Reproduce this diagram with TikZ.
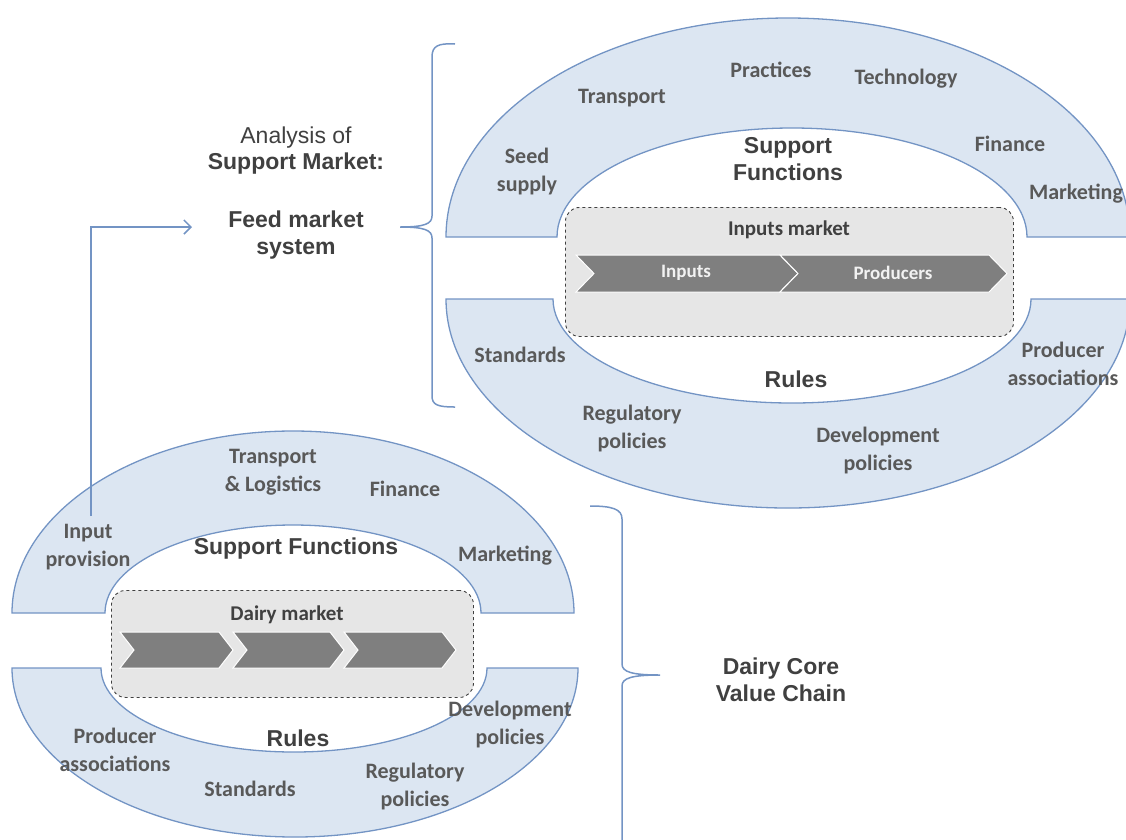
\documentclass[tikz,border=0pt]{standalone}
\usepackage{fontspec}
\setmainfont{Liberation Sans}
\newfontfamily\calfont{Carlito}
\usetikzlibrary{arrows.meta}
\definecolor{bandfill}{RGB}{220,230,242}
\definecolor{bandline}{RGB}{115,148,196}
\definecolor{lbl}{RGB}{89,89,89}
\definecolor{headc}{RGB}{64,64,64}
\definecolor{boxfill}{RGB}{230,230,230}
\definecolor{chevc}{RGB}{127,127,127}
\tikzset{
  band/.style={fill=bandfill, draw=bandline, line width=1.3pt},
  lab/.style={font=\calfont\bfseries\fontsize{22}{28}\selectfont, text=lbl, align=center, inner sep=0pt},
  headlab/.style={font=\bfseries\fontsize{23}{27}\selectfont, text=headc, align=center, inner sep=0pt},
  mktlab/.style={font=\calfont\bfseries\fontsize{21}{24}\selectfont, text=headc, inner sep=0pt},
  chevlab/.style={font=\calfont\bfseries\fontsize{19}{22}\selectfont, text=white!95!black, inner sep=0pt},
  mktbox/.style={draw=black!75, dashed, fill=boxfill, rounded corners=14pt, line width=0.9pt},
  chevron/.style={fill=chevc, draw=white, line width=1pt},
  bracec/.style={draw=bandline, line width=1.5pt},
  conn/.style={draw=bandline, line width=1.5pt}
}
\begin{document}
\begin{tikzpicture}[x=1pt, y=-1pt]
\useasboundingbox (0,0) rectangle (1126,839);
% ---------- top-right system ----------
\path[band] (446,237) arc[start angle=180, end angle=360, x radius=342, y radius=219]
  -- (1027,237) arc[start angle=0, end angle=-180, x radius=235, y radius=109] -- cycle;
\path[band] (446,299) arc[start angle=180, end angle=0, x radius=342, y radius=209]
  -- (1031,299) arc[start angle=0, end angle=180, x radius=239, y radius=104] -- cycle;
\node[mktbox, minimum width=448pt, minimum height=129pt, anchor=north west] (tbox) at (565,207) {};
\node[mktlab] (tmkt) at (789,230) {Inputs market};
\path[chevron] (576,255) -- (780,255) -- (798,273.5) -- (780,292) -- (576,292) -- (594,273.5) -- cycle;
\path[chevron] (780,255) -- (989,255) -- (1007,273.5) -- (989,292) -- (780,292) -- (798,273.5) -- cycle;
\node[chevlab] (tin) at (686,273) {Inputs};
\node[chevlab] (tprod) at (893,273) {Producers};

\node[lab] (ttrans) at (622,98) {Transport};
\node[lab] (tprac) at (771,70) {Practices};
\node[lab] (ttech) at (906,79) {Technology};
\node[lab] (tseed) at (527,172) {Seed\\supply};
\node[headlab] (tsf) at (788,159) {Support\\Functions};
\node[lab] (tfin) at (1010,144) {Finance};
\node[lab] (tmark) at (1076,194) {Marketing};
\node[lab] (tstd) at (520,355) {Standards};
\node[headlab] (trules) at (796,379) {Rules};
\node[lab] (tpa) at (1063,364) {Producer\\associations};
\node[lab] (treg) at (632,428) {Regulatory\\policies};
\node[lab] (tdev) at (878,450) {Development\\policies};

% ---------- bottom-left system ----------
\path[band] (12,613) arc[start angle=180, end angle=360, x radius=281, y radius=182]
  -- (481,613) arc[start angle=0, end angle=-180, x radius=188, y radius=88] -- cycle;
\path[band] (12,668) arc[start angle=180, end angle=0, x radius=283, y radius=169]
  -- (487,668) arc[start angle=0, end angle=180, x radius=193, y radius=84] -- cycle;
\node[mktbox, minimum width=362pt, minimum height=107pt, anchor=north west] (bbox) at (111,590) {};
\node[mktlab] (bmkt) at (287,615) {Dairy market};
\path[chevron] (120,632) -- (219,632) -- (233,650) -- (219,668) -- (120,668) -- (134,650) -- cycle;
\path[chevron] (233,632) -- (330,632) -- (344,650) -- (330,668) -- (233,668) -- (247,650) -- cycle;
\path[chevron] (344,632) -- (442,632) -- (456,650) -- (442,668) -- (344,668) -- (358,650) -- cycle;

\node[lab] (btrans) at (273,472) {Transport\\\& Logistics};
\node[lab] (bfin) at (405,489) {Finance};
\node[lab] (binput) at (88,547) {Input\\provision};
\node[headlab] (bsf) at (296,549) {Support Functions};
\node[lab] (bmark) at (505,556) {Marketing};
\node[lab] (bpa) at (115,750) {Producer\\associations};
\node[headlab] (brules) at (298,738) {Rules};
\node[lab] (bdev) at (510,724) {Development\\policies};
\node[lab] (bstd) at (250,789) {Standards};
\node[lab] (breg) at (415,786) {Regulatory\\policies};

% ---------- side texts ----------
\node[headlab, font=\fontsize{23}{26}\selectfont] (anal) at (296,151) {Analysis of\\\textbf{Support Market:}};
\node[headlab] (feed) at (296,235) {Feed market\\system};
\node[headlab] (dcv) at (781,680) {Dairy Core\\Value Chain};

% ---------- braces ----------
\coordinate (b1top) at (455,44);
\coordinate (b1tip) at (400,227);
\coordinate (b1bot) at (455,407);
\draw[bracec] (b1top) .. controls (438,43) and (432,46) .. (432,57) -- (432,216)
  .. controls (432,224) and (424,227) .. (b1tip)
  .. controls (424,227) and (432,230) .. (432,238) -- (432,396)
  .. controls (432,405) and (438,407) .. (b1bot);
\coordinate (b2top) at (590,506);
\coordinate (b2tip) at (660,675);
\coordinate (b2bot) at (622,860);
\draw[bracec] (b2top) .. controls (612,506) and (622,509) .. (622,519) -- (622,664)
  .. controls (622,672) and (632,675) .. (b2tip)
  .. controls (632,675) and (622,678) .. (622,686) -- (b2bot);

% ---------- connector ----------
\coordinate (cstart) at (91,516);
\coordinate (cend) at (192,227);
\draw[conn, -{Straight Barb[length=7pt, width=14pt, line width=1.5pt]}] (cstart) |- (cend);
\end{tikzpicture}
\end{document}
